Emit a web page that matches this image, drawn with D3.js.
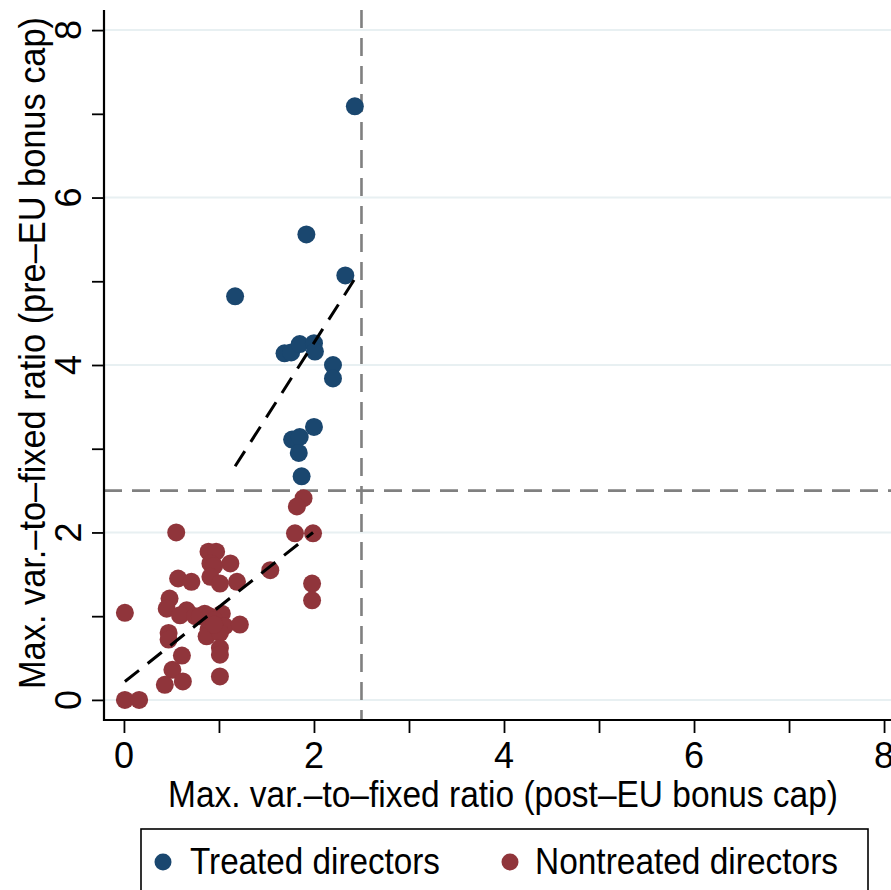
<!DOCTYPE html>
<html>
<head>
<meta charset="utf-8">
<script src="https://cdn.jsdelivr.net/npm/d3@7"></script>
<style>
  html, body { margin: 0; padding: 0; background: #fff; }
  svg { display: block; }
  text { font-family: "Liberation Sans Narrow", "Liberation Sans", Arial, sans-serif; fill: #000; }
</style>
</head>
<body>
<svg id="chart" width="891" height="890"></svg>
<script>
// ---- Data ----
const treatedX = [2.43, 1.92, 2.33, 1.17, 1.69, 1.76, 1.85, 2.00, 2.01, 2.20, 2.20, 2.00, 1.77, 1.85, 1.84, 1.87];
const treatedY = [7.09, 5.56, 5.07, 4.82, 4.14, 4.15, 4.25, 4.26, 4.16, 4.00, 3.84, 3.26, 3.11, 3.14, 2.95, 2.67];

const nontreatedX = [0.55, 1.89, 1.82, 1.80, 1.99,
  0.89, 0.97, 0.91, 1.12, 0.95,
  1.54,
  0.57, 0.71, 0.91, 1.01, 1.19, 1.98, 1.98,
  0.01,
  0.48, 0.45, 0.66, 0.59, 0.85, 1.03, 0.75, 0.80, 0.90, 0.95,
  1.06, 1.22, 0.89, 0.87, 1.01, 0.95,
  0.47, 0.47,
  1.01, 1.01, 0.61,
  0.51, 0.43, 0.62, 1.01,
  0.01, 0.16];
const nontreatedY = [2.00, 2.41, 2.31, 1.99, 1.99,
  1.77, 1.77, 1.63, 1.63, 1.60,
  1.55,
  1.45, 1.41, 1.47, 1.39, 1.41, 1.39, 1.19,
  1.04,
  1.21, 1.09, 1.07, 1.01, 1.03, 1.03, 1.00, 1.00, 1.00, 0.95,
  0.88, 0.90, 0.84, 0.76, 0.80, 0.90,
  0.80, 0.72,
  0.62, 0.54, 0.53,
  0.36, 0.18, 0.22, 0.28,
  0.00, 0.00];

// Linear fit lines (endpoints at each group's min/max x)
const fitTreatedX = [1.17, 2.43];
const fitTreatedY = [2.79, 5.03];
const fitNontreatedX = [0.01, 1.99];
const fitNontreatedY = [0.22, 2.00];

const capLine = 2.5;          // reference cap lines
const xTicks = [0, 1, 2, 3, 4, 5, 6, 7, 8];
const yTicks = [0, 1, 2, 3, 4, 5, 6, 7, 8];
const labelTicks = [0, 2, 4, 6, 8];

const xTitle = "Max. var.\u2013to\u2013fixed ratio (post\u2013EU bonus cap)";
const yTitle = "Max. var.\u2013to\u2013fixed ratio (pre\u2013EU bonus cap)";
const legendLabels = ["Treated directors", "Nontreated directors"];

// ---- Styles ----
const BLUE = "#1a476f", RED = "#90353b";

const svg = d3.select("#chart");
const plotL = 104, plotR = 904, plotT = 10, plotB = 720;

const x = d3.scaleLinear().domain([-0.21, 8.21]).range([plotL, plotR]);
const y = d3.scaleLinear().domain([-0.24, 8.24]).range([plotB, plotT]);

// gridlines
svg.append("g").selectAll("line").data(labelTicks).join("line")
  .attr("x1", plotL).attr("x2", 891)
  .attr("y1", d => y(d)).attr("y2", d => y(d))
  .attr("stroke", "#e8f0f2").attr("stroke-width", 2);

// reference dashed lines
svg.append("line")
  .attr("x1", x(capLine)).attr("x2", x(capLine))
  .attr("y1", plotT).attr("y2", plotB)
  .attr("stroke", "#808080").attr("stroke-width", 2.6)
  .attr("stroke-dasharray", "18,10");
svg.append("line")
  .attr("x1", plotL).attr("x2", 891)
  .attr("y1", y(capLine)).attr("y2", y(capLine))
  .attr("stroke", "#808080").attr("stroke-width", 2.6)
  .attr("stroke-dasharray", "18,10");

// points
const ntData = nontreatedX.map((v, i) => [v, nontreatedY[i]]);
const trData = treatedX.map((v, i) => [v, treatedY[i]]);
svg.append("g").selectAll("circle").data(ntData).join("circle")
  .attr("cx", d => x(d[0])).attr("cy", d => y(d[1])).attr("r", 9)
  .attr("fill", RED);
svg.append("g").selectAll("circle").data(trData).join("circle")
  .attr("cx", d => x(d[0])).attr("cy", d => y(d[1])).attr("r", 9)
  .attr("fill", BLUE);

// fit lines
const line = d3.line().x(d => x(d[0])).y(d => y(d[1]));
[[fitNontreatedX, fitNontreatedY], [fitTreatedX, fitTreatedY]].forEach(([fx, fy]) => {
  svg.append("path")
    .attr("d", line(fx.map((v, i) => [v, fy[i]])))
    .attr("fill", "none").attr("stroke", "#000").attr("stroke-width", 3)
    .attr("stroke-dasharray", "18,11");
});

// axes
const xAxis = d3.axisBottom(x).tickValues(xTicks).tickSize(13).tickFormat("");
const gx = svg.append("g").attr("transform", `translate(0,${plotB})`).call(xAxis);
gx.select(".domain").remove();
gx.selectAll(".tick line").attr("stroke", "#000").attr("stroke-width", 1.8);
svg.append("line").attr("x1", plotL).attr("x2", 891).attr("y1", plotB).attr("y2", plotB)
  .attr("stroke", "#000").attr("stroke-width", 2.2);

const yAxis = d3.axisLeft(y).tickValues(yTicks).tickSize(12).tickFormat("");
const gy = svg.append("g").attr("transform", `translate(${plotL},0)`).call(yAxis);
gy.select(".domain").remove();
gy.selectAll(".tick line").attr("stroke", "#000").attr("stroke-width", 1.8);
svg.append("line").attr("x1", plotL).attr("x2", plotL).attr("y1", plotT).attr("y2", plotB + 1)
  .attr("stroke", "#000").attr("stroke-width", 2.2);

// tick labels
svg.append("g").selectAll("text").data(labelTicks).join("text")
  .attr("x", d => x(d)).attr("y", 768)
  .attr("text-anchor", "middle").attr("font-size", 36)
  .text(d => d);
svg.append("g").selectAll("text").data(labelTicks).join("text")
  .attr("transform", d => `translate(81,${y(d)}) rotate(-90)`)
  .attr("text-anchor", "middle").attr("font-size", 36)
  .text(d => d);

// axis titles
svg.append("text")
  .attr("x", 503).attr("y", 807).attr("text-anchor", "middle")
  .attr("font-size", 36)
  .attr("textLength", 670).attr("lengthAdjust", "spacingAndGlyphs")
  .text(xTitle);
svg.append("text")
  .attr("transform", `translate(45,353) rotate(-90)`).attr("text-anchor", "middle")
  .attr("font-size", 36)
  .attr("textLength", 672).attr("lengthAdjust", "spacingAndGlyphs")
  .text(yTitle);

// legend
svg.append("rect")
  .attr("x", 141).attr("y", 829).attr("width", 727).attr("height", 80)
  .attr("fill", "#fff").attr("stroke", "#000").attr("stroke-width", 1.6);
const legendColors = [BLUE, RED];
const legendDotX = [163, 510];
const legendTextX = [190, 535];
const legendTextW = [250, 303];
legendLabels.forEach((lab, i) => {
  svg.append("circle").attr("cx", legendDotX[i]).attr("cy", 862).attr("r", 8.5)
    .attr("fill", legendColors[i]);
  svg.append("text").attr("x", legendTextX[i]).attr("y", 874)
    .attr("font-size", 36)
    .attr("textLength", legendTextW[i]).attr("lengthAdjust", "spacingAndGlyphs")
    .text(lab);
});
</script>
</body>
</html>
